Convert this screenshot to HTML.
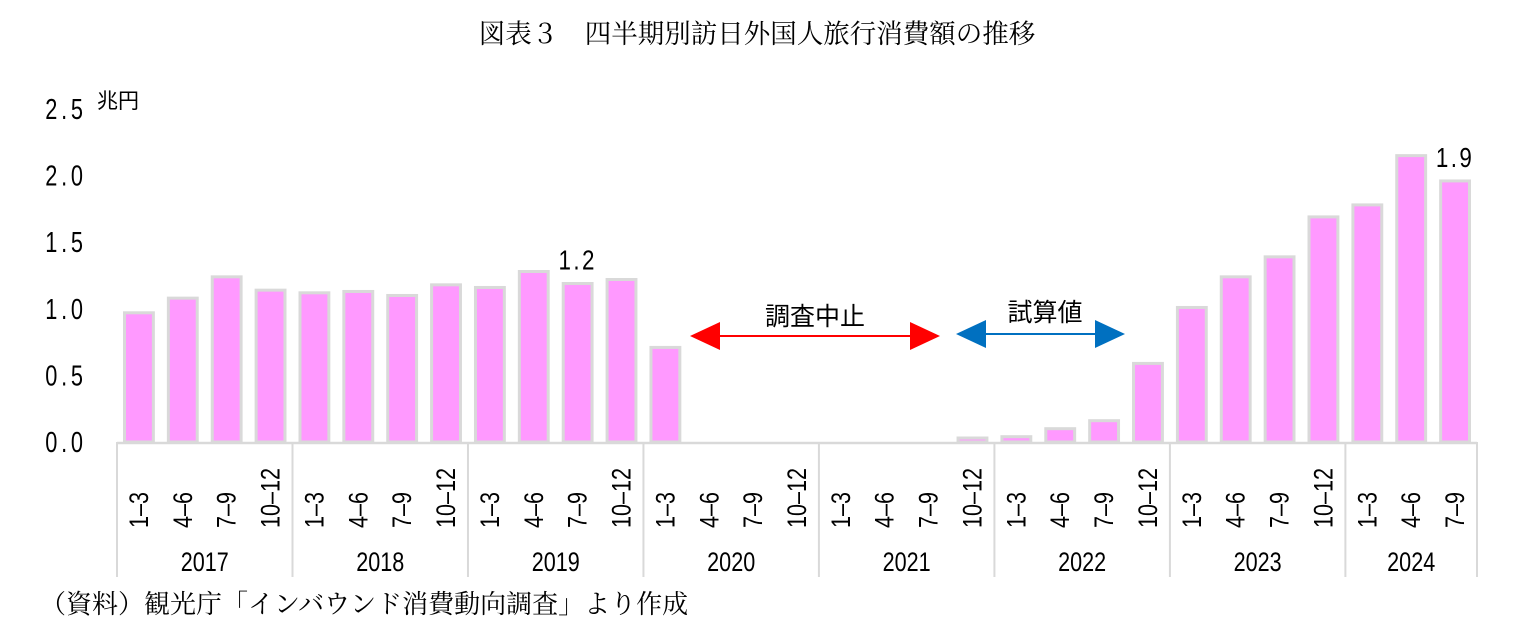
<!DOCTYPE html>
<html><head><meta charset="utf-8"><style>
body{margin:0;background:#fff;width:1522px;height:637px;overflow:hidden}
svg text{font-family:"Liberation Sans","Noto Sans CJK JP",sans-serif}
</style></head><body>
<svg id="chart" width="1522" height="637" viewBox="0 0 1522 637">
<text x="757" y="43" font-size="26.5" text-anchor="middle" style="font-family:'Noto Serif CJK SC','Liberation Serif',serif">図表３　四半期別訪日外国人旅行消費額の推移</text>
<text x="97" y="108" font-size="21" style="font-family:'Noto Sans CJK JP',sans-serif">兆円</text>
<text x="40" y="613" font-size="26" style="font-family:'Noto Serif CJK SC','Liberation Serif',serif">（資料）観光庁「インバウンド消費動向調査」より作成</text>
<g id="axes"></g><g id="bars"></g><g id="annot"></g>
</svg>
<script>
const years=["2017","2018","2019","2020","2021","2022","2023","2024"];
const quarters=["1–3","4–6","7–9","10–12"];
const values=[0.97,1.08,1.24,1.14, 1.12,1.13,1.10,1.18, 1.16,1.28,1.19,1.22, 0.71,0,0,0, 0,0,0,0.03, 0.04,0.10,0.16,0.59, 1.01,1.24,1.39,1.69, 1.78,2.15,1.96];
const yTicks=[0,0.5,1.0,1.5,2.0,2.5];
const NS="http://www.w3.org/2000/svg";
const X0=117,X1=1477,Y0=442,YPX=133.2;
const n=values.length, cw=(X1-X0)/n;
const x=i=>X0+i*cw, y=v=>Y0-v*YPX;
function el(t,a,p){const e=document.createElementNS(NS,t);for(const k in a)e.setAttribute(k,a[k]);p.appendChild(e);return e;}
const ax=document.getElementById('axes'),bg=document.getElementById('bars'),an=document.getElementById('annot');
yTicks.forEach(t=>{const e=el('text',{x:0,y:0,'font-size':29,'text-anchor':'middle','letter-spacing':5,transform:`translate(66 ${y(t)+10}) scale(0.75 1)`},ax);e.textContent=t.toFixed(1);

});
values.forEach((v,i)=>{
 if(v>0){const r=el('rect',{x:x(i)+7.5,y:y(v),width:cw-15,height:Y0-y(v),fill:'#ff99ff',stroke:'#d9d9d9','stroke-width':3},bg);
 
 }
 const cx=x(i)+cw/2+9;
 const t=el('text',{x:0,y:0,'font-size':27,'text-anchor':'start',transform:`translate(${cx} 528) rotate(-90) scale(0.8 1)`},ax);
 t.textContent=quarters[i%4];
 
 
});
el('line',{x1:X0,y1:Y0+1,x2:X1,y2:Y0+1,stroke:'#d9d9d9','stroke-width':2.5},ax);
for(let k=0;k<=years.length;k++){const xi=x(Math.min(k*4,n));el('line',{x1:xi,y1:Y0,x2:xi,y2:577,stroke:'#d9d9d9','stroke-width':2},ax);}
years.forEach((yr,k)=>{const a=k*4,b=Math.min(a+4,n);const cx=(x(a)+x(b))/2;
 const t=el('text',{x:0,y:0,'font-size':27,'text-anchor':'middle',transform:`translate(${cx} 571) scale(0.8 1)`},ax);t.textContent=yr;
 
 });
function lab(i,txt){const t=el('text',{x:0,y:0,'font-size':28,'text-anchor':'middle','letter-spacing':3,transform:`translate(${x(i)+cw/2} ${y(values[i])-14}) scale(0.8 1)`},an);t.textContent=txt;
 
 }
lab(10,"1.2");lab(30,"1.9");
function arrow(x1,x2,yy,col,name){const g=el('g',{},an);
 el('line',{x1:x1+25,y1:yy,x2:x2-25,y2:yy,stroke:col,'stroke-width':2},g);
 el('polygon',{points:`${x1},${yy} ${x1+30},${yy-14} ${x1+30},${yy+14}`,fill:col},g);
 el('polygon',{points:`${x2},${yy} ${x2-30},${yy-14} ${x2-30},${yy+14}`,fill:col},g);}
arrow(690,940,336,'#ff0000','suspended-arrow');
arrow(956,1125,334,'#0070c0','estimate-arrow');
let t=el('text',{x:815,y:325,'font-size':25,'text-anchor':'middle',style:"font-family:'Noto Sans CJK JP',sans-serif"},an);t.textContent="調査中止";


t=el('text',{x:1045,y:321,'font-size':25,'text-anchor':'middle',style:"font-family:'Noto Sans CJK JP',sans-serif"},an);t.textContent="試算値";


</script>
</body></html>
